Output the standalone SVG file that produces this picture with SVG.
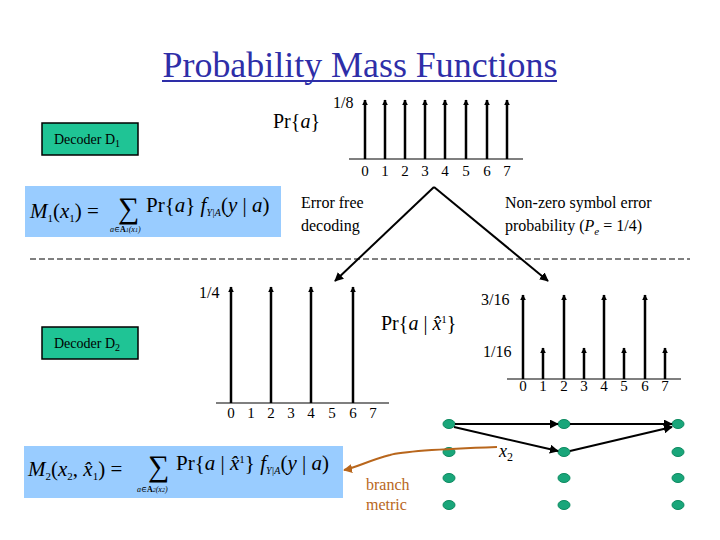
<svg xmlns="http://www.w3.org/2000/svg" width="720" height="540" viewBox="0 0 720 540">
<defs>
<marker id="ah" viewBox="0 0 10 10" refX="9" refY="5" markerWidth="6" markerHeight="6" markerUnits="userSpaceOnUse" orient="auto"><path d="M0,0 L10,5 L0,10 z" fill="#000"/></marker>
<marker id="ahb" viewBox="0 0 10 10" refX="9" refY="5" markerWidth="9" markerHeight="9" markerUnits="userSpaceOnUse" orient="auto"><path d="M0,0 L10,5 L0,10 z" fill="#000"/></marker>
<marker id="aho" viewBox="0 0 10 10" refX="9" refY="5" markerWidth="9" markerHeight="9" markerUnits="userSpaceOnUse" orient="auto"><path d="M0,0 L10,5 L0,10 z" fill="#b8661c"/></marker>
</defs>
<style>
text{font-family:"Liberation Serif","Times New Roman",Tinos,"DejaVu Serif",serif}
.t{fill:#000}
.n{font-size:15px;text-anchor:middle}
.s{stroke:#000;stroke-width:2.5;marker-end:url(#ah)}
.ax{stroke:#000;stroke-width:1.2}
.box{fill:#99ccff}
.dec{fill:#1fc495;stroke:#000;stroke-width:1.5}
.nd{fill:#19a67a;stroke:#0d8a60;stroke-width:1}
.e{stroke:#000;stroke-width:2;fill:none;marker-end:url(#ahb)}
</style>
<rect width="720" height="540" fill="#fff"/>
<text x="360" y="77" text-anchor="middle" font-size="36" fill="#2e2ea8" textLength="395" lengthAdjust="spacingAndGlyphs">Probability Mass Functions</text>
<line x1="162" y1="81" x2="557" y2="81" stroke="#2e2ea8" stroke-width="2"/>

<g id="decoder1"><rect class="dec" x="42" y="123" width="96" height="32"/><text x="54" y="144" class="t" font-size="14">Decoder D<tspan font-size="10" dy="3">1</tspan></text></g>
<g id="decoder2"><rect class="dec" x="42" y="327" width="96" height="32"/><text x="54" y="348" class="t" font-size="14">Decoder D<tspan font-size="10" dy="3">2</tspan></text></g>

<g id="formula1"><rect class="box" x="25" y="186" width="256" height="51"/>
<text x="30" y="218" class="t" font-size="21"><tspan font-style="italic">M</tspan><tspan font-size="11" dy="4">1</tspan><tspan dy="-4">(</tspan><tspan font-style="italic">x</tspan><tspan font-size="11" dy="4">1</tspan><tspan dy="-4">) =</tspan></text>
<text x="118" y="218" class="t" font-size="30">∑</text>
<text x="110" y="232" class="t" font-size="8" font-style="italic">a∈<tspan font-weight="bold" font-style="normal">A</tspan><tspan font-size="6">1</tspan>(x<tspan font-size="6">1</tspan>)</text>
<text x="146" y="212" class="t" font-size="21">Pr{<tspan font-style="italic">a</tspan>}<tspan font-style="italic"> f</tspan><tspan font-size="10" font-style="italic" dy="4">Y|A</tspan><tspan dy="-4">(</tspan><tspan font-style="italic">y</tspan> | <tspan font-style="italic">a</tspan>)</text></g>

<g id="formula2"><rect class="box" x="24" y="446" width="319" height="52"/>
<text x="28" y="476" class="t" font-size="21"><tspan font-style="italic">M</tspan><tspan font-size="11" dy="4">2</tspan><tspan dy="-4">(</tspan><tspan font-style="italic">x</tspan><tspan font-size="11" dy="4">2</tspan><tspan dy="-4">, </tspan><tspan font-style="italic">x̂</tspan><tspan font-size="11" dy="4">1</tspan><tspan dy="-4">) =</tspan></text>
<text x="148" y="476" class="t" font-size="30">∑</text>
<text x="137" y="492" class="t" font-size="8" font-style="italic">a∈<tspan font-weight="bold" font-style="normal">A</tspan><tspan font-size="6">2</tspan>(x<tspan font-size="6">2</tspan>)</text>
<text x="176" y="470" class="t" font-size="21">Pr{<tspan font-style="italic">a</tspan> | <tspan font-style="italic">x̂</tspan><tspan font-size="11" dy="-7">1</tspan><tspan dy="7">}</tspan><tspan font-style="italic"> f</tspan><tspan font-size="10" font-style="italic" dy="4">Y|A</tspan><tspan dy="-4">(</tspan><tspan font-style="italic">y</tspan> | <tspan font-style="italic">a</tspan>)</text></g>

<g id="pmf1">
<text x="273" y="128" class="t" font-size="20">Pr{<tspan font-style="italic">a</tspan>}</text>
<text x="333" y="108" class="t" font-size="16">1/8</text>
<line class="ax" x1="349" y1="159" x2="523" y2="159"/>
<g class="s"><line x1="365" y1="159" x2="365" y2="100"/><line x1="385" y1="159" x2="385" y2="100"/><line x1="405" y1="159" x2="405" y2="100"/><line x1="425" y1="159" x2="425" y2="100"/><line x1="445" y1="159" x2="445" y2="100"/><line x1="466" y1="159" x2="466" y2="100"/><line x1="487" y1="159" x2="487" y2="100"/><line x1="507" y1="159" x2="507" y2="100"/></g>
<g class="t n"><text x="365" y="176">0</text><text x="385" y="176">1</text><text x="405" y="176">2</text><text x="425" y="176">3</text><text x="445" y="176">4</text><text x="466" y="176">5</text><text x="487" y="176">6</text><text x="507" y="176">7</text></g>
</g>

<g id="pmf2">
<text x="199" y="298" class="t" font-size="16">1/4</text>
<line class="ax" x1="216" y1="403" x2="389" y2="403"/>
<g class="s"><line x1="231" y1="403" x2="231" y2="287"/><line x1="271" y1="403" x2="271" y2="287"/><line x1="311" y1="403" x2="311" y2="287"/><line x1="353" y1="403" x2="353" y2="287"/></g>
<g class="t n"><text x="231" y="418">0</text><text x="251" y="418">1</text><text x="271" y="418">2</text><text x="291" y="418">3</text><text x="311" y="418">4</text><text x="332" y="418">5</text><text x="353" y="418">6</text><text x="373" y="418">7</text></g>
<text x="381" y="330" class="t" font-size="20">Pr{<tspan font-style="italic">a</tspan> | <tspan font-style="italic">x̂</tspan><tspan font-size="11" dy="-7">1</tspan><tspan dy="7">}</tspan></text>
</g>

<g id="pmf3">
<text x="481" y="305" class="t" font-size="16">3/16</text>
<text x="483" y="357" class="t" font-size="16">1/16</text>
<line class="ax" x1="507" y1="379" x2="681" y2="379"/>
<g class="s"><line x1="523" y1="379" x2="523" y2="295"/><line x1="543" y1="379" x2="543" y2="348"/><line x1="564" y1="379" x2="564" y2="295"/><line x1="584" y1="379" x2="584" y2="348"/><line x1="604" y1="379" x2="604" y2="295"/><line x1="624" y1="379" x2="624" y2="348"/><line x1="645" y1="379" x2="645" y2="295"/><line x1="665" y1="379" x2="665" y2="348"/></g>
<g class="t n"><text x="523" y="391">0</text><text x="543" y="391">1</text><text x="564" y="391">2</text><text x="584" y="391">3</text><text x="604" y="391">4</text><text x="624" y="391">5</text><text x="645" y="391">6</text><text x="665" y="391">7</text></g>
</g>

<text x="301" y="208" class="t" font-size="16">Error free</text>
<text x="301" y="231" class="t" font-size="16">decoding</text>
<text x="505" y="208" class="t" font-size="16">Non-zero symbol error</text>
<text x="505" y="231" class="t" font-size="16">probability (<tspan font-style="italic">P</tspan><tspan font-style="italic" font-size="11" dy="4">e</tspan><tspan dy="-4"> = 1/4)</tspan></text>
<line x1="30" y1="259" x2="690" y2="259" stroke="#000" stroke-width="1" stroke-dasharray="6,3"/>

<g id="trellis">
<ellipse class="nd" cx="449" cy="424" rx="6" ry="4.5"/><ellipse class="nd" cx="449" cy="452" rx="6" ry="4.5"/><ellipse class="nd" cx="449" cy="478" rx="6" ry="4.5"/><ellipse class="nd" cx="449" cy="505" rx="6" ry="4.5"/>
<ellipse class="nd" cx="564" cy="424" rx="6" ry="4.5"/><ellipse class="nd" cx="564" cy="452" rx="6" ry="4.5"/><ellipse class="nd" cx="564" cy="478" rx="6" ry="4.5"/><ellipse class="nd" cx="564" cy="505" rx="6" ry="4.5"/>
<ellipse class="nd" cx="678" cy="424" rx="6" ry="4.5"/><ellipse class="nd" cx="678" cy="452" rx="6" ry="4.5"/><ellipse class="nd" cx="678" cy="478" rx="6" ry="4.5"/><ellipse class="nd" cx="678" cy="505" rx="6" ry="4.5"/>
<text x="499" y="457" class="t" font-size="18" font-style="italic">x<tspan font-size="12" dy="4" font-style="normal">2</tspan></text>
</g>

<g id="connectors">
<line class="e" x1="434" y1="187" x2="335" y2="281"/>
<line class="e" x1="434" y1="187" x2="548" y2="281"/>
<line class="e" x1="455" y1="424" x2="558" y2="424"/>
<line class="e" x1="570" y1="424" x2="672" y2="424"/>
<line class="e" x1="454" y1="427" x2="558" y2="451"/>
<line class="e" x1="570" y1="451" x2="672" y2="427"/>
<path d="M497,447 C440,449 400,452 390,455 C370,460 355,468 344,470" fill="none" stroke="#b8661c" stroke-width="2" marker-end="url(#aho)"/>
</g>
<text x="366" y="490" font-size="16" fill="#b8661c">branch</text>
<text x="366" y="510" font-size="16" fill="#b8661c">metric</text>
</svg>
